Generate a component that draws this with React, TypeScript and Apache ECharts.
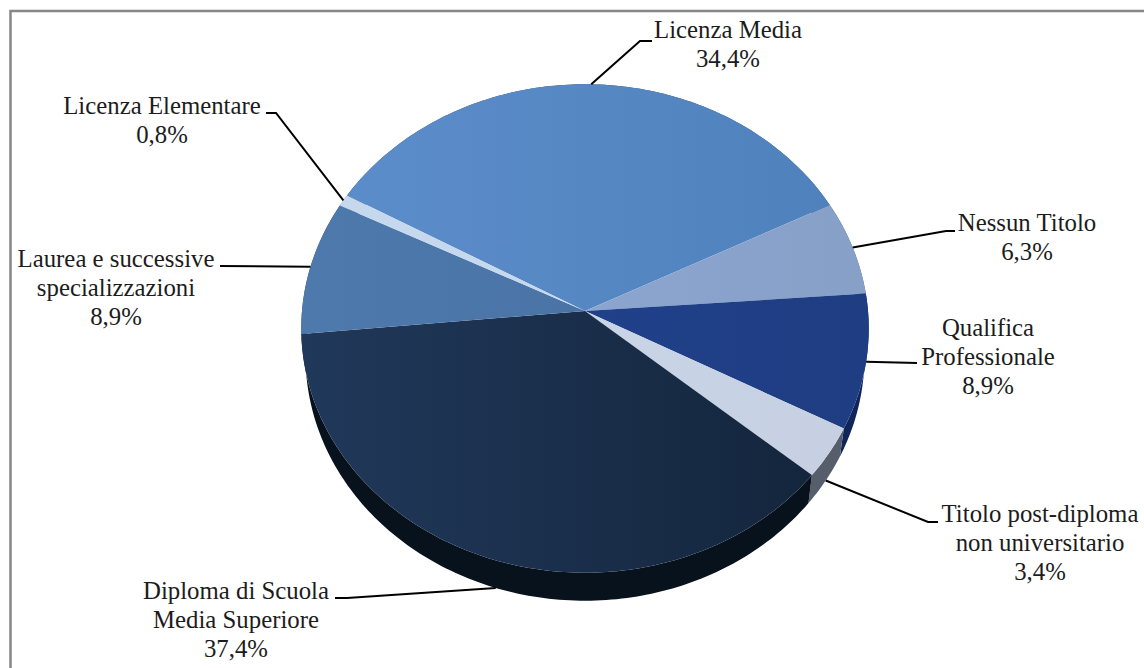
import React, { useEffect, useRef } from "react";
import * as echarts from "echarts";

// ---- data ----
const categories = [
  "Licenza Media",
  "Nessun Titolo",
  "Qualifica\nProfessionale",
  "Titolo post-diploma\nnon universitario",
  "Diploma di Scuola\nMedia Superiore",
  "Laurea e successive\nspecializzazioni",
  "Licenza Elementare",
];
const values = [34.4, 6.3, 8.9, 3.4, 37.4, 8.9, 0.8];
const percentLabels = ["34,4%", "6,3%", "8,9%", "3,4%", "37,4%", "8,9%", "0,8%"];

// ---- styles ----
const topColorsLeft = ["#5C8DCB", "#8CA5CF", "#20408A", "#CAD4E8", "#20385A", "#4E79AC", "#C5D8EE"];
const topColorsRight = ["#4F82BC", "#86A0C8", "#1E3D82", "#C6D0E2", "#14263D", "#4A74A6", "#C5D8EE"];
const sideColors = ["#2F4F75", "#55627A", "#10265A", "#565E6B", "#07121D", "#2F4A68", "#7A8796"];

// ---- layout ----
const APEX_X = 585;
const APEX_Y = 311;
const SCALE_X = 283;
const SCALE_Y = 243;
const PERSPECTIVE = -0.0715;
const DEPTH = 28;
const BASE_SCALE = 0.985;
const START_DEG = -60.5;
const FONT = '"Liberation Serif", "Times New Roman", serif';
const FONT_SIZE = 24.8;
const LINE_HEIGHT = 28.7;

// label centre x, first-line centre y
const labelX = [728, 1027, 988, 1040, 236, 116, 162];
const labelY = [30, 223, 328, 514, 591, 259, 106];
// elbow and end of each leader, from the slice's rim outward
const leaderElbowX = [640, 946, 917, 928, 347, 220, 276];
const leaderElbowY = [41, 231, 363, 522, 598, 266, 113];
const leaderEndX = [652, 955, 917, 938, 335, 220, 266];
const leaderEndY = [41, 231, 363, 522, 598, 266, 113];
const leaderFromBase = [false, false, false, true, true, false, false];

const total = values.reduce((a, b) => a + b, 0);
const boundaries: number[] = [];
values.reduce((acc, v, i) => {
  boundaries[i] = START_DEG + (acc / total) * 360;
  return acc + v;
}, 0);
boundaries.push(START_DEG + 360);

function project(deg: number, base: boolean): number[] {
  const r = (deg * Math.PI) / 180;
  const x = Math.sin(r);
  const y = -Math.cos(r);
  const w = 1 + PERSPECTIVE * y;
  return [
    APEX_X + (SCALE_X * x * (base ? BASE_SCALE : 1)) / w,
    APEX_Y + (SCALE_Y * y) / w + (base ? DEPTH : 0),
  ];
}

function rim(a: number, b: number, base: boolean): number[][] {
  const pts: number[][] = [];
  const n = Math.max(2, Math.ceil(Math.abs(b - a)));
  for (let i = 0; i <= n; i++) pts.push(project(a + ((b - a) * i) / n, base));
  return pts;
}

export default function App() {
  const ref = useRef<HTMLDivElement>(null);

  useEffect(() => {
    document.body.style.margin = "0";
    const chart = echarts.init(ref.current!, undefined, { renderer: "svg" });
    const seriesData = values.map((v, i) => ({ value: v, name: categories[i] }));

    chart.setOption({
      animation: false,
      backgroundColor: "#ffffff",
      graphic: [
        {
          type: "rect",
          silent: true,
          z: -10,
          shape: { x: 10.5, y: 11, width: 1200, height: 800 },
          style: { fill: "none", stroke: "#878787", lineWidth: 2.5 },
        },
      ],
      series: [
        {
          type: "custom",
          name: "side",
          coordinateSystem: "none",
          silent: true,
          z: 1,
          data: seriesData,
          renderItem: (p: any) => {
            const i = p.dataIndex;
            const a = boundaries[i];
            const b = boundaries[i + 1];
            const pts = [...rim(a, b, false), ...rim(a, b, true).reverse()];
            return { type: "polygon", shape: { points: pts }, style: { fill: sideColors[i] } };
          },
        },
        {
          type: "custom",
          name: "top",
          coordinateSystem: "none",
          silent: true,
          z: 2,
          data: seriesData,
          renderItem: (p: any) => {
            const i = p.dataIndex;
            const pts = [[APEX_X, APEX_Y], ...rim(boundaries[i], boundaries[i + 1], false)];
            const xs = pts.map((q) => q[0]);
            const fill = new echarts.graphic.LinearGradient(
              Math.min(...xs),
              0,
              Math.max(...xs),
              0,
              [
                { offset: 0, color: topColorsLeft[i] },
                { offset: 1, color: topColorsRight[i] },
              ],
              true
            );
            return { type: "polygon", shape: { points: pts }, style: { fill } };
          },
        },
        {
          type: "custom",
          name: "labels",
          coordinateSystem: "none",
          silent: true,
          z: 3,
          data: seriesData,
          renderItem: (p: any) => {
            const i = p.dataIndex;
            const mid = (boundaries[i] + boundaries[i + 1]) / 2;
            const from = project(mid, leaderFromBase[i]);
            return {
              type: "group",
              children: [
                {
                  type: "polyline",
                  shape: {
                    points: [from, [leaderElbowX[i], leaderElbowY[i]], [leaderEndX[i], leaderEndY[i]]],
                  },
                  style: { fill: "none", stroke: "#000000", lineWidth: 2 },
                },
                {
                  type: "text",
                  x: labelX[i],
                  y: labelY[i] - LINE_HEIGHT / 2,
                  style: {
                    text: `${categories[i]}\n${percentLabels[i]}`,
                    font: `${FONT_SIZE}px ${FONT}`,
                    fill: "#1c1c1c",
                    align: "center",
                    verticalAlign: "top",
                    lineHeight: LINE_HEIGHT,
                  },
                },
              ],
            };
          },
        },
      ],
    });
    return () => chart.dispose();
  }, []);

  return (
    <div
      ref={ref}
      style={{ position: "absolute", left: 0, top: 0, width: 1144, height: 668, overflow: "hidden" }}
    />
  );
}
